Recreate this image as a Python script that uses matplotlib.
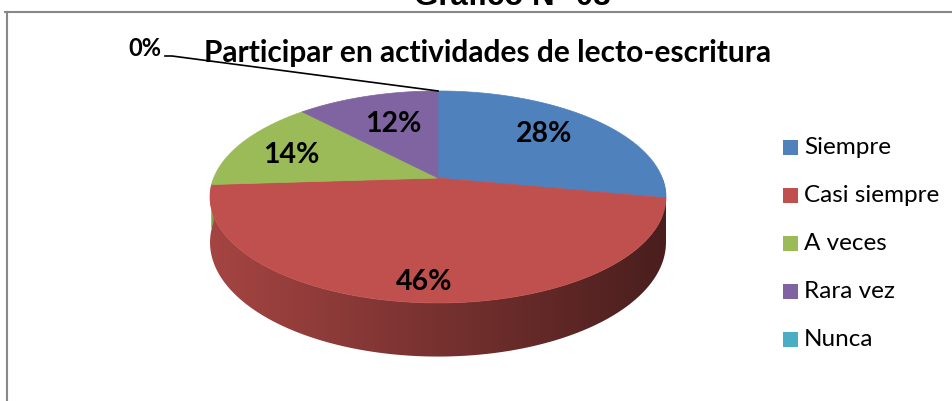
import numpy as np
import matplotlib.pyplot as plt
from matplotlib.patches import Polygon, Rectangle
from matplotlib.lines import Line2D

categories = ['Siempre', 'Casi siempre', 'A veces', 'Rara vez', 'Nunca']
percentages = [28, 46, 14, 12, 0]
colors = ['#4F81BD', '#C0504D', '#9BBB59', '#8064A2', '#4BACC6']
chart_title = 'Participar en actividades de lecto-escritura'
header = 'Gráfico N° 08'

W, H = 952, 401
# pie geometry in pixels (apex, radii, perspective factor, thickness)
cx, cy = 438, 178
A, B, k = 224.3, 102.6, 0.179
depth = 44
label_r = [0.66, 0.86, 0.74, 0.6]
label_dy = [-4, 0, 4, -2]

font = 'Lato'


def proj(theta, r=1.0):
    u = r * np.cos(theta)
    v = r * np.sin(theta)
    s = 1 + k * v
    return cx + A * u / s, cy - B * v / s


fig = plt.figure(figsize=(W / 100, H / 100), dpi=100)
ax = fig.add_axes([0, 0, 1, 1])

fracs = np.array(percentages, dtype=float) / sum(percentages)
starts = np.pi / 2 - 2 * np.pi * np.concatenate([[0], np.cumsum(fracs)[:-1]])
ends = starts - 2 * np.pi * fracs

# side wall (front half only)
for i in range(len(categories)):
    hi = min(starts[i], 0)
    lo = max(ends[i], -np.pi)
    if hi - lo < 0.02:
        continue
    t = np.linspace(hi, lo, 120)
    xt, yt = proj(t)
    yb = yt + depth / (1 + k * np.sin(t))
    pts = np.column_stack([np.r_[xt, xt[::-1]], np.r_[yt, yb[::-1]]])
    side = Polygon(pts, closed=True, facecolor='none', edgecolor='none')
    ax.add_patch(side)
    base = np.array(plt.matplotlib.colors.to_rgb(colors[i]))
    shade = np.linspace(0.86, 0.38, 256)
    grad = (shade[:, None] * base[None, :])[None, :, :]
    x0, x1 = cx - A * 1.02, cx + A * 1.02
    im = ax.imshow(grad, extent=(x0, x1, yb.max() + 2, yt.min() - 2),
                   aspect='auto', interpolation='bilinear', zorder=1)
    im.set_clip_path(side)

# top face
for i in range(len(categories)):
    if fracs[i] == 0:
        continue
    t = np.linspace(starts[i], ends[i], 200)
    xs, ys = proj(t)
    pts = np.column_stack([np.r_[cx, xs], np.r_[cy, ys]])
    ax.add_patch(Polygon(pts, closed=True, facecolor=colors[i],
                         edgecolor=colors[i], linewidth=0.5, zorder=2))

# data labels
for i, p in enumerate(percentages):
    if p == 0:
        continue
    mid = (starts[i] + ends[i]) / 2
    lx, ly = proj(mid, label_r[i])
    ax.text(lx, ly + label_dy[i], f'{p}%', ha='center', va='center', fontsize=20.5,
            fontweight='bold', family=font, zorder=4)

# zero slice with leader line
for i, p in enumerate(percentages):
    if p != 0:
        continue
    tx, ty = proj(starts[i])
    ax.plot([tx, 172, 165], [ty, 56, 56], color='black', lw=1.2, zorder=3)
    ax.text(161, 49, f'{p}%', ha='right', va='center', fontsize=17,
            fontweight='bold', family=font, zorder=4)

ax.text(488, 53, chart_title, ha='center', va='center', fontsize=21.5,
        fontweight='bold', family=font, zorder=4)

# legend
for i, cat in enumerate(categories):
    y = 147 + 48.2 * i
    ax.add_patch(Rectangle((783, y - 7.5), 15, 15, facecolor=colors[i],
                           edgecolor='none', zorder=4))
    ax.text(804, y, cat, ha='left', va='center', fontsize=17.5, family=font,
            zorder=4)

ax.set_xlim(0, W)
ax.set_ylim(H, 0)
ax.axis('off')

# chart frame and cut-off header
fig.add_artist(Line2D([5 / W, 1], [1 - 11.5 / H, 1 - 11.5 / H], color='#888888', lw=1.5))
fig.add_artist(Line2D([6.5 / W, 6.5 / W], [0, 1 - 11.5 / H], color='#888888', lw=1.5))
fig.text(512 / W, 1 - 5 / H, header, ha='center', va='baseline', fontsize=22.5,
         fontweight='bold', family='Liberation Sans')

fig.savefig('out.png', dpi=100)
